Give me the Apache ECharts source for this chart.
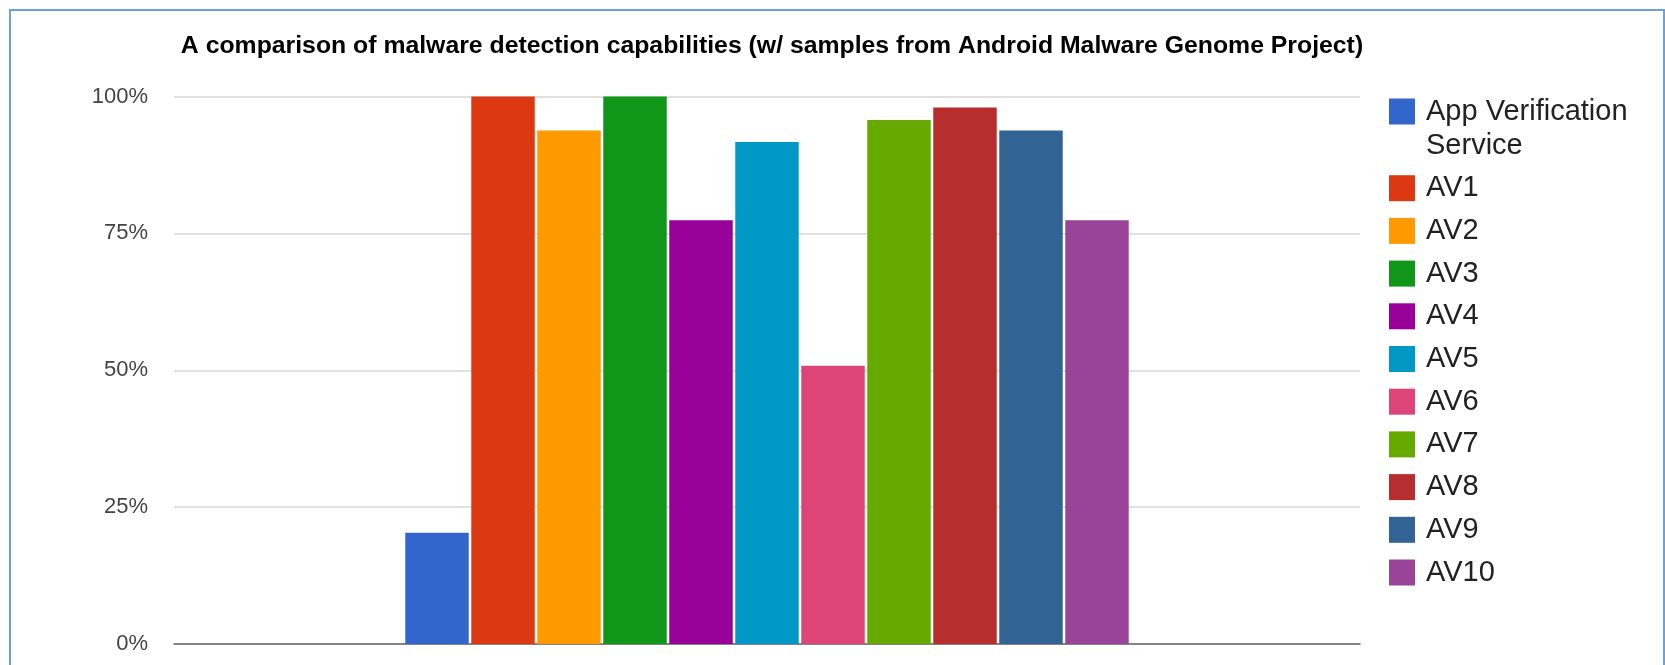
<!DOCTYPE html>
<html>
<head>
<meta charset="utf-8">
<script src="https://cdn.jsdelivr.net/npm/echarts@6/dist/echarts.min.js"></script>
<style>
html,body{margin:0;padding:0;background:#fff;}
#chart{width:1665px;height:665px;}
</style>
</head>
<body>
<div id="chart"></div>
<script>
var titleText = 'A comparison of malware detection capabilities (w/ samples from Android Malware Genome Project)';
var categories = ['Detection'];
var seriesNames = ['App Verification Service','AV1','AV2','AV3','AV4','AV5','AV6','AV7','AV8','AV9','AV10'];
var seriesValues = [20.3, 100, 93.8, 100, 77.4, 91.7, 50.8, 95.7, 98.0, 93.8, 77.4];
var colors = ['#3366cc','#dc3912','#ff9900','#109618','#990099','#0099c6','#dd4477','#66aa00','#b82e2e','#316395','#994499'];
var yTicks = [0, 25, 50, 75, 100];

var chart = echarts.init(document.getElementById('chart'));

var rich = {
  t: {fontSize: 29, fontFamily: 'Liberation Sans, Arial, sans-serif', color: '#222', lineHeight: 34},
  g: {width: 11, height: 26},
  p: {width: 37, height: 26}
};
seriesNames.forEach(function(n, i){
  rich['s' + i] = {width: 26, height: 26, backgroundColor: colors[i]};
});

function wrapName(name){
  if (name.length <= 16) return [name];
  var idx = name.lastIndexOf(' ', 16);
  return [name.slice(0, idx), name.slice(idx + 1)];
}

var series = seriesNames.map(function(n, i){
  return {
    name: n,
    type: 'bar',
    data: [seriesValues[i]],
    itemStyle: {color: colors[i]},
    barGap: '4%',
    barCategoryGap: '39%',
    emphasis: {disabled: true}
  };
});

chart.setOption({
  animation: false,
  color: colors,
  title: {
    text: titleText,
    left: 767,
    textAlign: 'center',
    top: 29,
    textStyle: {fontSize: 24.8, fontWeight: 'bold', color: '#000', fontFamily: 'Liberation Sans, Arial, sans-serif'}
  },
  graphic: [{
    type: 'rect',
    shape: {x: 10, y: 10, width: 1654, height: 700},
    style: {fill: 'none', stroke: '#6f9fd4', lineWidth: 2},
    silent: true
  }],
  legend: {
    orient: 'vertical',
    left: 1379,
    top: 89.5,
    itemWidth: 0,
    itemHeight: 0,
    itemGap: 8.7,
    icon: 'rect',
    selectedMode: false,
    data: seriesNames,
    formatter: function(name){
      var i = seriesNames.indexOf(name);
      var lines = wrapName(name);
      var s = '{s' + i + '|}{g|}{t|' + lines[0] + '}';
      for (var k = 1; k < lines.length; k++) s += '\n{p|}{t|' + lines[k] + '}';
      return s;
    },
    textStyle: {rich: rich, fontSize: 29, lineHeight: 34}
  },
  grid: {left: 174, right: 305, top: 96.5, bottom: 21, containLabel: false},
  xAxis: {
    type: 'category',
    data: categories,
    axisLine: {show: true, lineStyle: {color: '#666', width: 1.5}},
    axisTick: {show: false},
    axisLabel: {show: false}
  },
  yAxis: {
    type: 'value',
    min: yTicks[0],
    max: yTicks[yTicks.length - 1],
    interval: 25,
    axisLine: {show: false},
    axisTick: {show: false},
    axisLabel: {
      formatter: '{value}%',
      fontSize: 22,
      color: '#444',
      margin: 26,
      fontFamily: 'Liberation Sans, Arial, sans-serif'
    },
    splitLine: {lineStyle: {color: '#d6d6d6', width: 1.5}}
  },
  series: series
});
</script>
</body>
</html>
